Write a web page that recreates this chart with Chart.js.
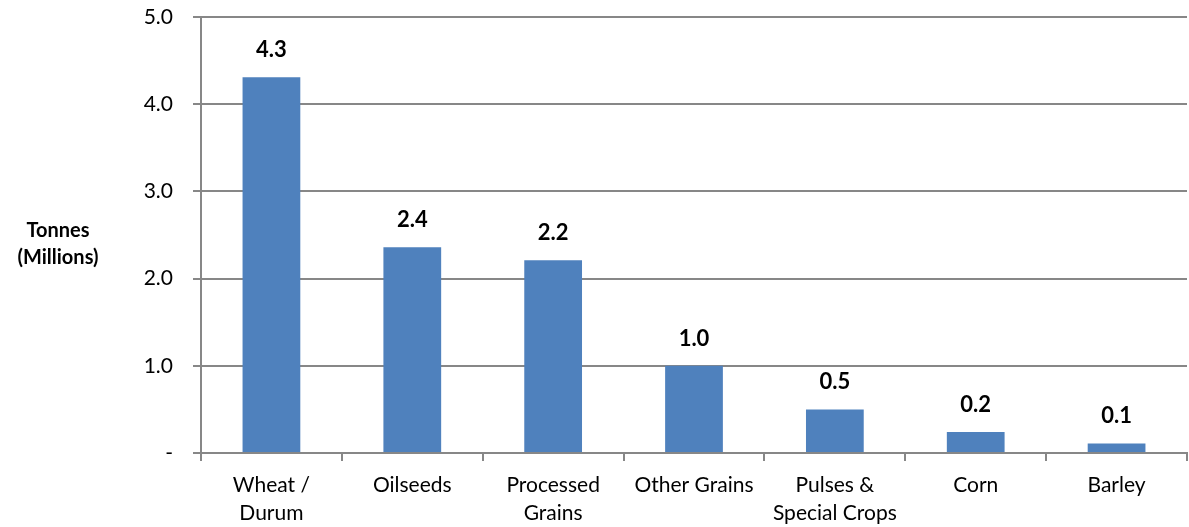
<!DOCTYPE html>
<html>
<head>
<meta charset="utf-8">
<script src="https://cdn.jsdelivr.net/npm/chart.js@4"></script>
<style>
  html, body { margin: 0; padding: 0; background: #fff; }
  #wrap { width: 1189px; height: 527px; }
</style>
</head>
<body>
<div id="wrap"><canvas id="chart"></canvas></div>
<script>
const categories = [['Wheat /', 'Durum'], 'Oilseeds', ['Processed', 'Grains'], 'Other Grains', ['Pulses &', 'Special Crops'], 'Corn', 'Barley'];
const tonnes = [4.31, 2.36, 2.21, 1.0, 0.5, 0.24, 0.11];
const valueLabels = ['4.3', '2.4', '2.2', '1.0', '0.5', '0.2', '0.1'];
const yTicks = [0, 1, 2, 3, 4, 5];

const fontFamily = "Lato, 'Open Sans', sans-serif";
const gridColor = '#878787';

// bold numbers above each bar, plus the horizontal axis title on the left
const barLabels = {
    id: 'barLabels',
    afterDatasetsDraw(chart) {
        const ctx = chart.ctx;
        const meta = chart.getDatasetMeta(0);
        ctx.save();
        ctx.fillStyle = '#000';
        ctx.font = "bold 22px " + fontFamily;
        ctx.textAlign = 'center';
        ctx.textBaseline = 'alphabetic';
        meta.data.forEach((bar, i) => {
            ctx.fillText(valueLabels[i], bar.x, bar.y - 20);
        });
        ctx.font = "bold 20px " + fontFamily;
        ctx.fillText('Tonnes', 58, 237);
        ctx.fillText('(Millions)', 58, 264);
        ctx.restore();
    }
};

new Chart(document.getElementById('chart'), {
    type: 'bar',
    data: {
        labels: categories,
        datasets: [{
            data: tonnes,
            backgroundColor: '#4F81BD',
            barPercentage: 0.41,
            categoryPercentage: 1.0
        }]
    },
    options: {
        responsive: true,
        maintainAspectRatio: false,
        animation: false,
        layout: { padding: { left: 0, right: 2, top: 17, bottom: 0 } },
        plugins: {
            legend: { display: false },
            tooltip: { enabled: false }
        },
        scales: {
            x: {
                grid: {
                    offset: true,
                    drawOnChartArea: false,
                    color: gridColor,
                    tickLength: 8,
                    lineWidth: 2
                },
                border: { color: gridColor, width: 2 },
                ticks: {
                    color: '#000',
                    maxRotation: 0,
                    autoSkip: false,
                    padding: 10,
                    font: { family: fontFamily, size: 21, lineHeight: 1.33 }
                },
                afterFit(scale) {
                    scale.height = 74;
                    scale.paddingLeft = 0;
                    scale.paddingRight = 0;
                }
            },
            y: {
                min: 0,
                max: 5,
                afterBuildTicks(scale) { scale.ticks = yTicks.map(v => ({ value: v })); },
                grid: {
                    color: gridColor,
                    tickLength: 8,
                    lineWidth: 2
                },
                border: { color: gridColor, width: 2 },
                ticks: {
                    color: '#000',
                    padding: 20,
                    font: { family: fontFamily, size: 21 },
                    callback: v => v === 0 ? '-' : v.toFixed(1)
                },
                afterFit(scale) {
                    scale.width = 201;
                    scale.paddingTop = 0;
                    scale.paddingBottom = 0;
                }
            }
        }
    },
    plugins: [barLabels]
});
</script>
</body>
</html>
